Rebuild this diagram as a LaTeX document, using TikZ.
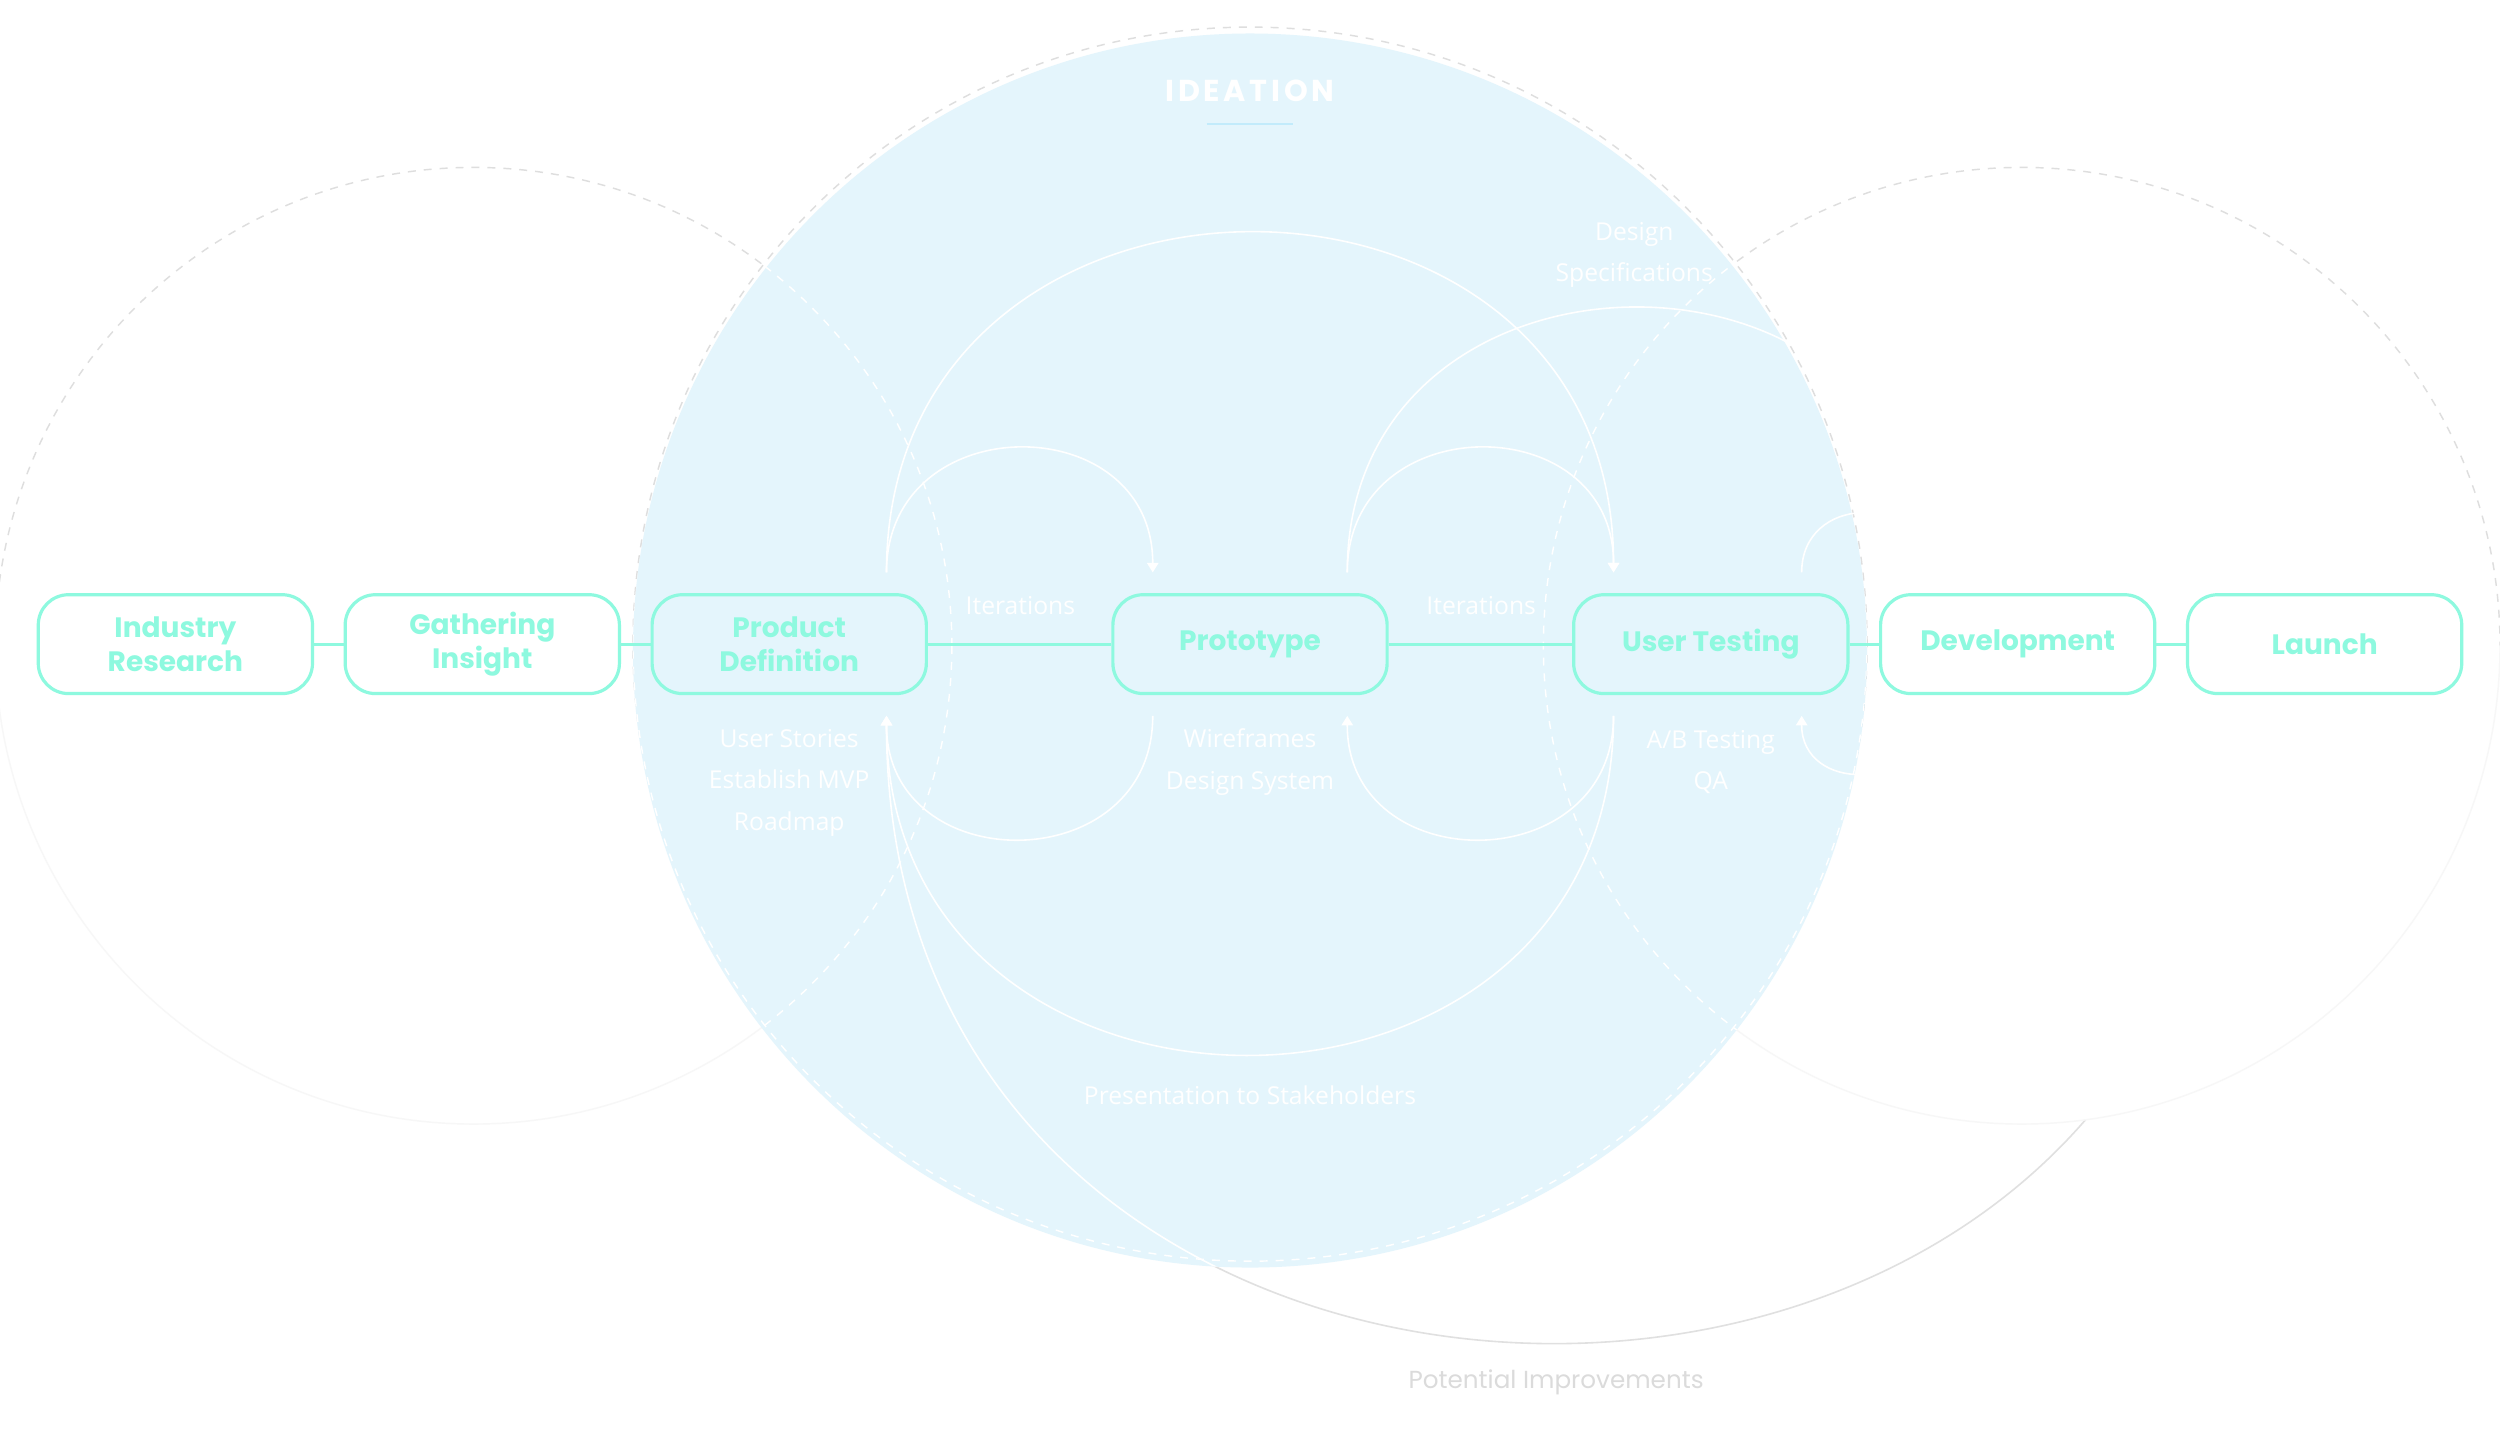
\documentclass[tikz,border=0pt]{standalone}
\usepackage{fontspec}
\setmainfont{Poppins}
\newfontfamily\notefont{Open Sans}
\newfontfamily\ideafont[LetterSpace=12]{Poppins}
\usepackage{xcolor}
\usetikzlibrary{arrows.meta,positioning,backgrounds}

\definecolor{ideablue}{HTML}{E4F5FC}
\definecolor{aqua}{HTML}{8EF9DF}
\definecolor{ringgray}{HTML}{DEDEDE}
\definecolor{barblue}{HTML}{C2EBFB}

\begin{document}
\begin{tikzpicture}[
    x=0.5mm, y=0.5mm,
    stage/.style={draw=aqua, line width=1mm, rounded corners=9.5mm, minimum width=86mm, minimum height=31mm,
                  text=aqua, align=center, font=\fontsize{25}{30}\selectfont\bfseries},
    link/.style={aqua, line width=1mm},
    flow/.style={white, line width=0.5mm, -{Triangle[length=3mm,width=3.6mm]}},
    ring/.style={line width=0.45mm, dash pattern=on 2.5mm off 2.5mm},
    note/.style={text=white, align=center, font=\notefont\fontsize{22}{37}\selectfont}
]
  \useasboundingbox (0,0) rectangle (1568,-903);

  % stages
  \node[stage] (ir) at (110,-404)    {Industry\\Research};
  \node[stage] (gi) at (302.5,-404)  {Gathering\\Insight};
  \node[stage] (pd) at (495,-404)    {Product\\Definition};
  \node[stage] (pt) at (784,-404)    {Prototype};
  \node[stage] (ut) at (1073,-404)   {User Testing};
  \node[stage] (dv) at (1265.5,-404) {Development};
  \node[stage] (la) at (1458,-404)   {Launch};

  % loop ends
  \coordinate (pd-tr) at ([xshift=-13mm,yshift=6.5mm]pd.north east);
  \coordinate (pd-br) at ([xshift=-13mm,yshift=-6.5mm]pd.south east);
  \coordinate (pt-tl) at ([xshift=13mm,yshift=6.5mm]pt.north west);
  \coordinate (pt-bl) at ([xshift=13mm,yshift=-6.5mm]pt.south west);
  \coordinate (pt-tr) at ([xshift=-13mm,yshift=6.5mm]pt.north east);
  \coordinate (pt-br) at ([xshift=-13mm,yshift=-6.5mm]pt.south east);
  \coordinate (ut-tl) at ([xshift=13mm,yshift=6.5mm]ut.north west);
  \coordinate (ut-bl) at ([xshift=13mm,yshift=-6.5mm]ut.south west);
  \coordinate (ut-tr) at ([xshift=-15mm,yshift=6.5mm]ut.north east);
  \coordinate (ut-br) at ([xshift=-15mm,yshift=-6.5mm]ut.south east);
  \coordinate (dv-tl) at ([xshift=13mm,yshift=6.5mm]dv.north west);
  \coordinate (dv-bl) at ([xshift=13mm,yshift=-6.5mm]dv.south west);
  \coordinate (la-bl) at ([xshift=13mm,yshift=-6.5mm]la.south west);

  \begin{scope}[on background layer]
    \fill[white] (0,0) rectangle (1568,-903);
    % rings outside the blue
    \draw[flow, black!12] (la-bl) .. controls +(0,-524) and +(0,-524) .. (pd-br);
    \fill[white] (1268,-405) circle[radius=300];
    \draw[ring, ringgray] (-3,-405) arc[start angle=180, end angle=0, radius=300];
    \draw[line width=0.45mm, black!3] (-3,-405) arc[start angle=180, end angle=360, radius=300];
    \draw[ring, ringgray] (968,-405) arc[start angle=180, end angle=0, radius=300];
    \draw[line width=0.45mm, black!3] (968,-405) arc[start angle=180, end angle=360, radius=300];
    \draw[ring, ringgray] (784,-404) circle[radius=387];
    % ideation
    \fill[ideablue] (784,-408) circle[radius=387];
    \begin{scope}
      \clip (784,-408) circle[radius=387];
      \draw[ring, white] (297,-405) circle[radius=300];
      \draw[ring, white] (1268,-405) circle[radius=300];
      \draw[ring, white] (784,-404) circle[radius=387];
      \draw[flow] (la-bl) .. controls +(0,-524) and +(0,-524) .. (pd-br);
    \end{scope}
  \end{scope}

  \node[text=white, font=\ideafont\fontsize{27}{30}\selectfont\bfseries] (idea) at (784,-57) {IDEATION};
  \draw[barblue, line width=0.7mm] (757,-78) -- (811,-78);

  % loops over the top
  \draw[flow] (pd-tr) .. controls +(0,104) and +(0,104) .. (pt-tl);
  \draw[flow] (pt-tr) .. controls +(0,104) and +(0,104) .. (ut-tl);
  \draw[flow] (pd-tr) .. controls +(0,284) and +(0,284) .. (ut-tl);
  \draw[flow] (pt-tr) .. controls +(0,221) and +(0,221) .. (dv-tl);
  \draw[flow] (ut-tr) .. controls +(0,49) and +(0,49) .. (dv-tl);

  % loops underneath
  \draw[flow] (pt-bl) .. controls +(0,-103) and +(0,-103) .. (pd-br);
  \draw[flow] (ut-bl) .. controls +(0,-103) and +(0,-103) .. (pt-br);
  \draw[flow] (ut-bl) .. controls +(0,-283) and +(0,-283) .. (pd-br);
  \draw[flow] (dv-bl) .. controls +(0,-48) and +(0,-48) .. (ut-br);

  % chain
  \draw[link] (ir) -- (gi);
  \draw[link] (gi) -- (pd);
  \draw[link] (pd) -- (pt);
  \draw[link] (pt) -- (ut);
  \draw[link] (ut) -- (dv);
  \draw[link] (dv) -- (la);

  % notes
  \node[note] (it1) at (640,-380)  {Iterations};
  \node[note] (it2) at (929,-380)  {Iterations};
  \node[note] (pdn) at (495,-491)  {User Stories\\Establish MVP\\Roadmap};
  \node[note] (ptn) at (784,-478)  {Wireframes\\Design System};
  \node[note] (utn) at (1073,-478) {A/B Testing\\QA};
  \node[note] (dsn) at (1025,-160) {Design\\Specifications};
  \node[note] (psn) at (784,-687)  {Presentation to Stakeholders};
  \node[text=black!14, font=\fontsize{22}{26}\selectfont] (pin) at (976,-867) {Potential Improvements};
\end{tikzpicture}
\end{document}
